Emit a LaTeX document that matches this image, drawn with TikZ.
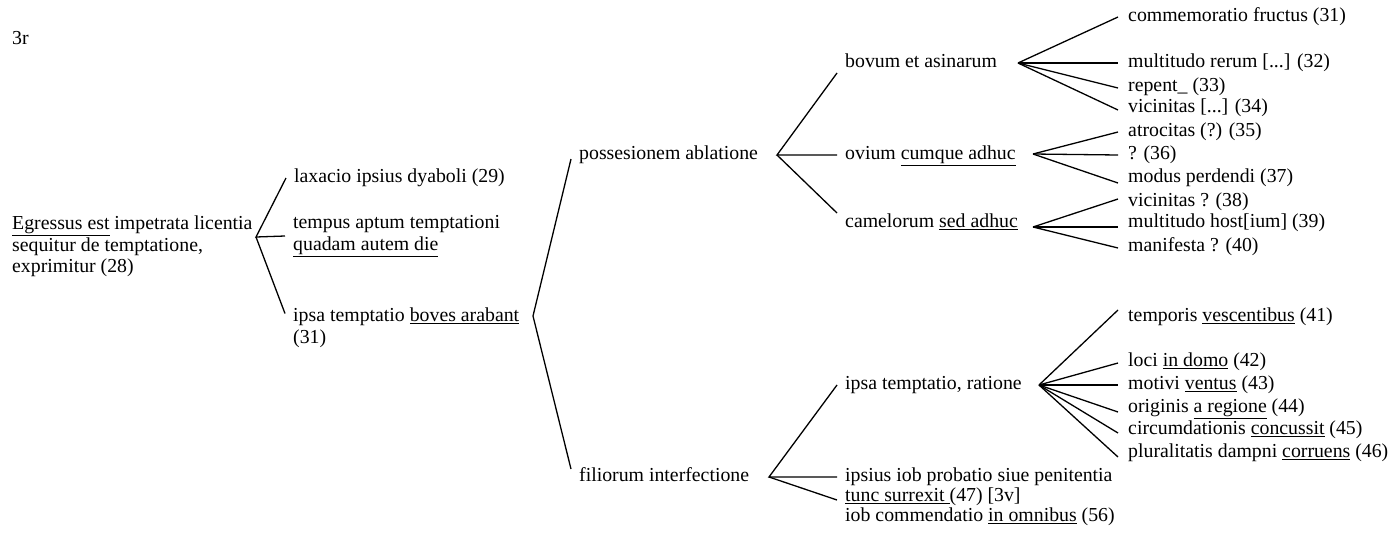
\documentclass[tikz,border=0pt]{standalone}
\usepackage{fontspec}
\setmainfont{Liberation Serif}
\usetikzlibrary{positioning}

\tikzset{
  txt/.style={anchor=west, inner xsep=8pt, inner ysep=0pt, font=\fontsize{19.8}{21.5}\selectfont},
  one/.style={txt, text height=14pt, text depth=4.5pt},
  blk/.style={txt, align=left},
  leaf/.style={one, inner xsep=10pt},
  branch/.style={line width=1.3pt}
}

\begin{document}
\begin{tikzpicture}[x=1pt, y=-1pt]
\useasboundingbox (0,0) rectangle (1395,533);
\node [one, inner xsep=0pt] (folio) at (12,40) {3r};

% Egressus
\node [blk, inner xsep=0pt] (root) at (12,246.5) {\underline{Egressus est} impetrata licentia\\sequitur de temptatione,\\exprimitur (28)};
\coordinate (j1) at (256,237);
\node [one] (lax) at (286,178) {laxacio ipsius dyaboli (29)};
\node [blk] (tempus) at (285,236) {tempus aptum temptationi\\\underline{quadam autem die}};
\node [blk] (ipsa) at (285,327.5) {ipsa temptatio \underline{boves arabant}\\(31)};
\draw [branch] (lax.west) -- (j1) -- (tempus.west);
\draw [branch] (j1) -- ([yshift=14pt]ipsa.west);

% boves arabant
\coordinate (j2) at (533,316);
\node [one] (poss) at (571,155) {possesionem ablatione};
\node [one] (fil) at (571,477) {filiorum interfectione};
\draw [branch] ([yshift=-4pt]poss.west) -- (j2) -- ([yshift=8pt]fil.west);

% possesionem
\coordinate (j3) at (777,155);
\node [one] (bovum) at (837,63) {bovum et asinarum};
\node [one] (ovium) at (837,155) {ovium \underline{cumque adhuc}};
\node [one] (camel) at (837,223) {camelorum \underline{sed adhuc}};
\draw [branch] ([yshift=-10pt]bovum.west) -- (j3) -- (ovium.west);
\draw [branch] (j3) -- ([yshift=10pt]camel.west);

% filiorum
\coordinate (j4) at (769,477);
\node [one] (ratio) at (837,385) {ipsa temptatio, ratione};
\node [blk, font=\fontsize{19.8}{20}\selectfont] (prob) at (837,497) {ipsius iob probatio siue penitentia\\\underline{tunc surrexit }(47) [3v]\\iob commendatio \underline{in omnibus} (56)};
\draw [branch] (ratio.west) -- (j4) -- ([yshift=20pt]prob.west);
\draw [branch] (j4) -- ([yshift=-3pt]prob.west);

% leaves
\coordinate (jb) at (1018,63);
\coordinate (jo) at (1033,154);
\coordinate (jc) at (1033,227);
\coordinate (jr) at (1039,385);
\node [leaf] (l31) at (1118,17) {commemoratio fructus (31)};
\node [leaf] (l32) at (1118,63) {multitudo rerum [...] (32)};
\node [leaf] (l33) at (1118,87) {repent\_ (33)};
\node [leaf] (l34) at (1118,108) {vicinitas [...] (34)};
\node [leaf] (l35) at (1118,132) {atrocitas (?) (35)};
\node [leaf] (l36) at (1118,155) {? (36)};
\node [leaf] (l37) at (1118,178) {modus perdendi (37)};
\node [leaf] (l38) at (1118,202) {vicinitas ? (38)};
\node [leaf] (l39) at (1118,223) {multitudo host[ium] (39)};
\node [leaf] (l40) at (1118,247) {manifesta ? (40)};
\node [leaf] (l41) at (1118,317) {temporis \underline{vescentibus} (41)};
\node [leaf] (l42) at (1118,362) {loci \underline{in domo} (42)};
\node [leaf] (l43) at (1118,385) {motivi \underline{ventus} (43)};
\node [leaf] (l44) at (1118,408) {originis \underline{a regione} (44)};
\node [leaf] (l45) at (1118,430) {circumdationis \underline{concussit} (45)};
\node [leaf] (l46) at (1118,453) {pluralitatis dampni \underline{corruens} (46)};
\foreach \n/\s in {l31/0, l32/0, l33/-1, l34/-2} \draw [branch] (jb) -- ([yshift=\s pt]\n.west);
\foreach \n/\s in {l35/0, l36/0, l37/-5} \draw [branch] (jo) -- ([yshift=\s pt]\n.west);
\foreach \n/\s in {l38/3, l39/-4, l40/-1} \draw [branch] (jc) -- ([yshift=\s pt]\n.west);
\foreach \n/\s in {l41/7, l42/-1, l43/0, l44/-4, l45/-3, l46/-4} \draw [branch] (jr) -- ([yshift=\s pt]\n.west);
\end{tikzpicture}
\end{document}
